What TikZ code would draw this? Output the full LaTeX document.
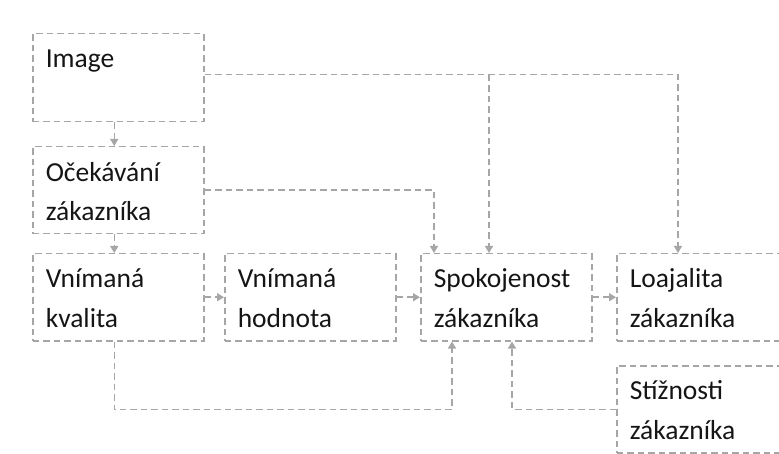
\documentclass[tikz,border=0pt]{standalone}
\usepackage{fontspec}
\setmainfont{Carlito}
\usetikzlibrary{arrows.meta,positioning}
\definecolor{lineGray}{HTML}{A6A6A6}
\definecolor{textGray}{HTML}{151515}

\begin{document}
\begin{tikzpicture} [x=1pt, y=-1pt, >={Triangle[width=8pt,length=7pt]},
  box/.style={draw=lineGray, dash pattern=on 6.5pt off 4pt, line width=1.5pt, anchor=north west,
    minimum height=87pt, text width=145pt, inner xsep=13pt, inner ysep=0pt,
    text height=34pt, text depth=53pt, align=left, text=textGray,
    font=\fontsize{27.5pt}{39.5pt}\selectfont},
  link/.style={draw=lineGray, dash pattern=on 6.5pt off 4pt, line width=1.5pt, ->}]

\clip (0,0) rectangle (779,454);

\node [box, text depth=54pt] (image) at (32,33) {Image};
\node [box, text depth=52pt] (ocekavani) at (32,146) {Očekávání\\zákazníka};

\foreach \m/\x/\l in {kvalita/32/{Vnímaná\\kvalita}, hodnota/224/{Vnímaná\\hodnota},
    spokojenost/420/{Spokojenost\\zákazníka}, loajalita/616/{Loajalita\\zákazníka}}
  \node [box] (\m) at (\x,253) {\l};

\node [box] (stiznosti) at (616,365) {Stížnosti\\zákazníka};

% entry points on Spokojenost
\coordinate (spoOce) at ([xshift=14pt]spokojenost.north west);
\coordinate (spoImg) at ([xshift=69pt]spokojenost.north west);
\coordinate (spoKva) at ([xshift=32pt]spokojenost.south west);
\coordinate (spoSti) at ([xshift=92pt]spokojenost.south west);
\coordinate (loaImg) at ([xshift=62pt]loajalita.north west);

\draw [link] ([xshift=-4pt]image.south) -- ([xshift=-4pt]ocekavani.north);
\draw [link] ([xshift=-4pt]ocekavani.south) -- ([xshift=-4pt]kvalita.north);

\foreach \a/\b in {kvalita/hodnota, hodnota/spokojenost, spokojenost/loajalita}
  \draw [link] (\a) -- (\b);

\draw [link] ([yshift=3pt]image.east) -| (loaImg);
\draw [link] ([yshift=3pt]image.east -| spoImg) -- (spoImg);
\draw [link] (ocekavani.east) -| (spoOce);

\draw [link] ([xshift=-4pt]kvalita.south) -- ++(0,68) -| (spoKva);
\draw [link] (stiznosti.west) -| (spoSti);

\end{tikzpicture}
\end{document}
